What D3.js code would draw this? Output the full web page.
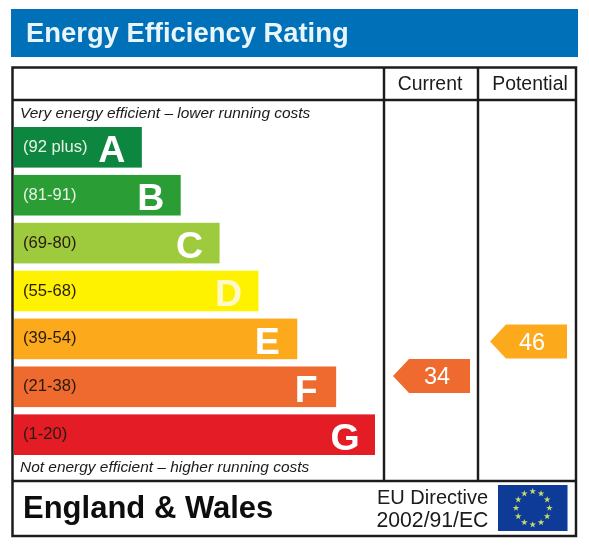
<!DOCTYPE html>
<html>
<head>
<meta charset="utf-8">
<script src="https://cdn.jsdelivr.net/npm/d3@7"></script>
<style>
  html, body { margin: 0; padding: 0; background: #fff; }
  svg { display: block; }
  text { font-family: "Liberation Sans", Arial, sans-serif; }
</style>
</head>
<body>
<div id="chart"></div>
<script>
// chart values
var title = "Energy Efficiency Rating";
var letters = ["A", "B", "C", "D", "E", "F", "G"];
var ranges = ["(92 plus)", "(81-91)", "(69-80)", "(55-68)", "(39-54)", "(21-38)", "(1-20)"];
var barRanks = [1, 2, 3, 4, 5, 6, 7];
var bandColors = ["#11873f", "#2b9e35", "#9dcb3c", "#fff200", "#fcaa1f", "#ee6a2d", "#e31d26"];
var scores = [
  { label: "34", value: 34, band: "F", column: "Current" },
  { label: "46", value: 46, band: "E", column: "Potential" }
];
var columns = ["Current", "Potential"];
var topNote = "Very energy efficient \u2013 lower running costs";
var bottomNote = "Not energy efficient \u2013 higher running costs";
var region = "England & Wales";
var directive = ["EU Directive", "2002/91/EC"];
var starCount = d3.range(12);

var w = 589, h = 552;
var ink = "#1a1a1a";

var svg = d3.select("#chart").append("svg").attr("width", w).attr("height", h);

// soft edges, the source is a slightly blurry scan
var defs = svg.append("defs");
defs.append("filter").attr("id", "soft")
  .attr("x", "-5%").attr("y", "-5%").attr("width", "110%").attr("height", "110%")
  .append("feGaussianBlur").attr("stdDeviation", 0.5);

var g = svg.append("g").attr("filter", "url(#soft)");

// banner
g.append("rect").attr("x", 11).attr("y", 9).attr("width", 567).attr("height", 48).attr("fill", "#046fb8");
g.append("text").attr("x", 26).attr("y", 41.5)
  .attr("font-size", 27.4).attr("font-weight", "bold").attr("fill", "#e8f5fb")
  .text(title);

// scales
var yBand = d3.scaleBand().domain(letters).range([127, 455]).paddingInner(0.152).paddingOuter(0);
var xRank = d3.scaleLinear().domain([0, 7]).range([103, 375]);
var yScore = d3.scaleLinear().domain([0, 100]).range([473.75, 186.25]);
var xCol = d3.scaleOrdinal().domain(columns).range([470, 567]);

// frame and rules
var lines = g.append("g").attr("stroke", ink).attr("stroke-width", 2.4).attr("fill", "none");
lines.append("rect").attr("x", 12.5).attr("y", 67.5).attr("width", 563.5).attr("height", 468.5).attr("stroke-width", 2.5);
lines.append("line").attr("x1", 12).attr("x2", 576).attr("y1", 100).attr("y2", 100);
lines.append("line").attr("x1", 12).attr("x2", 576).attr("y1", 481).attr("y2", 481);
lines.append("line").attr("x1", 384).attr("x2", 384).attr("y1", 67).attr("y2", 481);
lines.append("line").attr("x1", 478).attr("x2", 478).attr("y1", 67).attr("y2", 481);

// column heads
g.selectAll("text.col").data(columns).join("text").attr("class", "col")
  .attr("x", function(d) { return d === "Current" ? 430 : 530; })
  .attr("y", 90)
  .attr("text-anchor", "middle").attr("font-size", 19.4).attr("fill", ink)
  .text(function(d) { return d; });

// notes
g.append("text").attr("x", 20).attr("y", 118).attr("font-size", 15.45).attr("font-style", "italic").attr("fill", ink).text(topNote);
g.append("text").attr("x", 20).attr("y", 472).attr("font-size", 15.45).attr("font-style", "italic").attr("fill", ink).text(bottomNote);

// rating bars
var bars = g.selectAll("g.band").data(letters).join("g").attr("class", "band");
bars.append("rect")
  .attr("x", 14)
  .attr("y", function(d) { return yBand(d); })
  .attr("width", function(d, i) { return xRank(barRanks[i]) - 14; })
  .attr("height", yBand.bandwidth())
  .attr("fill", function(d, i) { return bandColors[i]; });
bars.append("text")
  .attr("x", 23)
  .attr("y", function(d) { return yBand(d) + yBand.bandwidth() / 2 + 4.5; })
  .attr("font-size", 16.6)
  .attr("fill", function(d, i) { return i === 0 || i === 1 ? "#e6f3e6" : "#2a1a10"; })
  .text(function(d, i) { return ranges[i]; });
bars.append("text")
  .attr("x", function(d, i) { return xRank(barRanks[i]) - 30; })
  .attr("y", function(d) { return yBand(d) + yBand.bandwidth() / 2 + 15; })
  .attr("text-anchor", "middle")
  .attr("font-size", 37.5).attr("font-weight", "bold")
  .attr("fill", function(d) { return d === "D" ? "#fff9c8" : "#fff"; })
  .text(function(d) { return d; });

// score arrows
var arrow = d3.line();
var marks = g.selectAll("g.score").data(scores).join("g").attr("class", "score")
  .attr("transform", function(d) { return "translate(" + xCol(d.column) + "," + yScore(d.value) + ")"; });
marks.append("path")
  .attr("d", arrow([[0, -17], [-61, -17], [-77, 0], [-61, 17], [0, 17]]) + "Z")
  .attr("fill", function(d) { return bandColors[letters.indexOf(d.band)]; });
marks.append("text")
  .attr("x", function(d) { return d.column === "Current" ? -33 : -35; })
  .attr("y", 8)
  .attr("text-anchor", "middle").attr("font-size", 23.5).attr("fill", "#fff")
  .text(function(d) { return d.label; });

// footer
g.append("text").attr("x", 23).attr("y", 518).attr("font-size", 31).attr("font-weight", "bold").attr("fill", "#111").text(region);
g.selectAll("text.dir").data(directive).join("text").attr("class", "dir")
  .attr("x", function(d, i) { return i === 0 ? 377 : 376.5; })
  .attr("y", function(d, i) { return 504 + i * 22.7; })
  .attr("font-size", function(d, i) { return i === 0 ? 20 : 21.2; })
  .attr("fill", ink)
  .text(function(d) { return d; });

// EU flag
g.append("rect").attr("x", 498).attr("y", 485).attr("width", 69.5).attr("height", 46).attr("fill", "#0b3b97");
var star = d3.symbol().type(d3.symbolStar).size(14);
g.selectAll("path.star").data(starCount).join("path").attr("class", "star")
  .attr("d", star)
  .attr("fill", "#c9d96a")
  .attr("transform", function(d) {
    var a = d / 12 * 2 * Math.PI;
    return "translate(" + (532.7 + 16.7 * Math.sin(a)) + "," + (508 - 16.7 * Math.cos(a)) + ")";
  });
</script>
</body>
</html>
